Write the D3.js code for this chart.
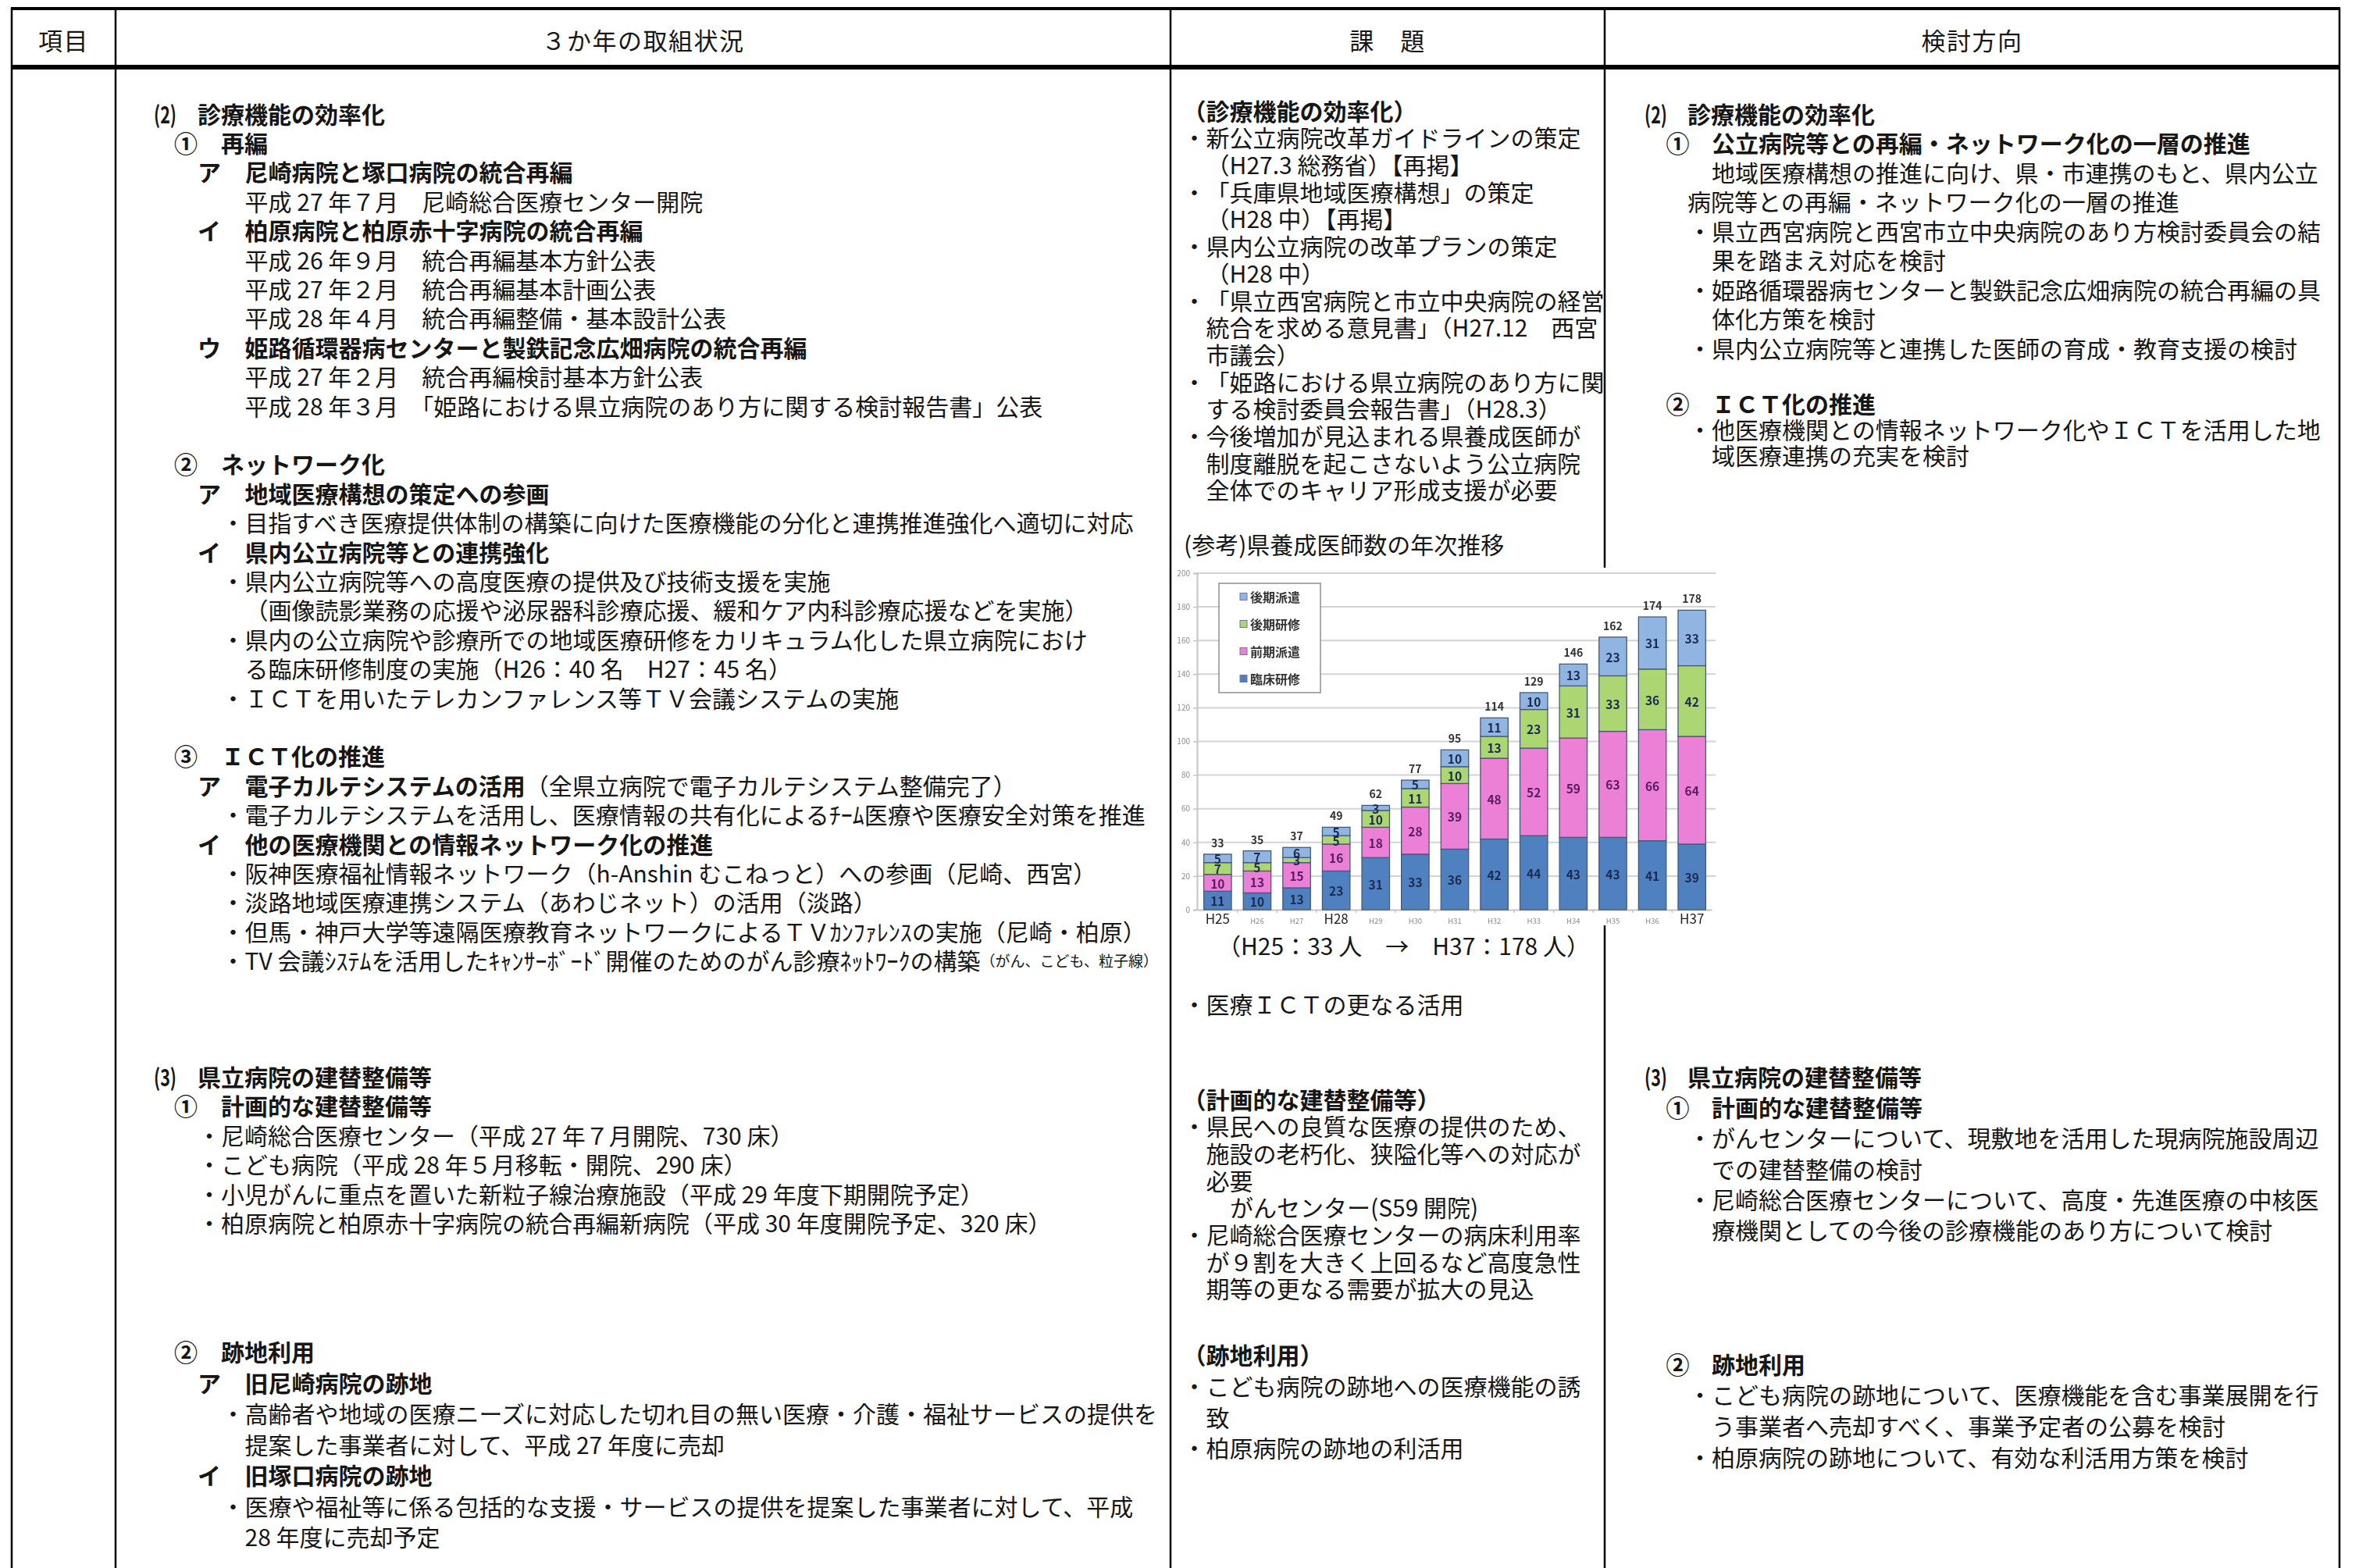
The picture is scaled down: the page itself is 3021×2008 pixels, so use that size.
<!DOCTYPE html>
<html lang="ja">
<head>
<meta charset="utf-8">
<title>県立病院改革 取組状況・課題・検討方向</title>
<script src="https://cdn.jsdelivr.net/npm/d3@7/dist/d3.min.js"></script>
<style>
html,body{margin:0;padding:0;background:#fff;}
svg{display:block;}
text{font-family:"Noto Sans CJK JP","Noto Sans",sans-serif;}
</style>
</head>
<body>
<svg id="page" width="3021" height="2008"></svg>
<script>
// ---- 県養成医師数の年次推移（人） ----
const years = ["H25","H26","H27","H28","H29","H30","H31","H32","H33","H34","H35","H36","H37"];
const emphasizedYears = ["H25","H28","H37"];
const seriesNames = ["臨床研修","前期派遣","後期研修","後期派遣"];
const rinshoKenshu = [11,10,13,23,31,33,36,42,44,43,43,41,39];
const zenkiHaken   = [10,13,15,16,18,28,39,48,52,59,63,66,64];
const kokiKenshu   = [7,5,3,5,10,11,10,13,23,31,33,36,42];
const kokiHaken    = [5,7,6,5,3,5,10,11,10,13,23,31,33];
const yTickValues  = [0,20,40,60,80,100,120,140,160,180,200];

// ---- table text ----
const headers = ["項目","３か年の取組状況","課　題","検討方向"];

const col2Top = [
  ["sec","(2)","診療機能の効率化"],
  ["num","①","再編"],
  ["kana","ア","尼崎病院と塚口病院の統合再編"],
  ["txt","平成 27 年７月　尼崎総合医療センター開院"],
  ["kana","イ","柏原病院と柏原赤十字病院の統合再編"],
  ["txt","平成 26 年９月　統合再編基本方針公表"],
  ["txt","平成 27 年２月　統合再編基本計画公表"],
  ["txt","平成 28 年４月　統合再編整備・基本設計公表"],
  ["kana","ウ","姫路循環器病センターと製鉄記念広畑病院の統合再編"],
  ["txt","平成 27 年２月　統合再編検討基本方針公表"],
  ["txt","平成 28 年３月　「姫路における県立病院のあり方に関する検討報告書」公表"],
  null,
  ["num","②","ネットワーク化"],
  ["kana","ア","地域医療構想の策定への参画"],
  ["dot","目指すべき医療提供体制の構築に向けた医療機能の分化と連携推進強化へ適切に対応"],
  ["kana","イ","県内公立病院等との連携強化"],
  ["dot","県内公立病院等への高度医療の提供及び技術支援を実施"],
  ["txt","（画像読影業務の応援や泌尿器科診療応援、緩和ケア内科診療応援などを実施）"],
  ["dot","県内の公立病院や診療所での地域医療研修をカリキュラム化した県立病院におけ"],
  ["txt","る臨床研修制度の実施（H26：40 名　H27：45 名）"],
  ["dot","ＩＣＴを用いたテレカンファレンス等ＴＶ会議システムの実施"],
  null,
  ["num","③","ＩＣＴ化の推進"],
  ["kana","ア",["電子カルテシステムの活用","（全県立病院で電子カルテシステム整備完了）"]],
  ["dot","電子カルテシステムを活用し、医療情報の共有化によるﾁｰﾑ医療や医療安全対策を推進"],
  ["kana","イ","他の医療機関との情報ネットワーク化の推進"],
  ["dot","阪神医療福祉情報ネットワーク（h-Anshin むこねっと）への参画（尼崎、西宮）"],
  ["dot","淡路地域医療連携システム（あわじネット）の活用（淡路）"],
  ["dot","但馬・神戸大学等遠隔医療教育ネットワークによるＴＶｶﾝﾌｧﾚﾝｽの実施（尼崎・柏原）"],
  ["dot",["TV 会議ｼｽﾃﾑを活用したｷｬﾝｻｰﾎﾞｰﾄﾞ開催のためのがん診療ﾈｯﾄﾜｰｸの構築","（がん、こども、粒子線）"]]
];
const col2Mid = [
  ["sec","(3)","県立病院の建替整備等"],
  ["num","①","計画的な建替整備等"],
  ["dot1","尼崎総合医療センター（平成 27 年７月開院、730 床）"],
  ["dot1","こども病院（平成 28 年５月移転・開院、290 床）"],
  ["dot1","小児がんに重点を置いた新粒子線治療施設（平成 29 年度下期開院予定）"],
  ["dot1","柏原病院と柏原赤十字病院の統合再編新病院（平成 30 年度開院予定、320 床）"]
];
const col2Bottom = [
  ["num","②","跡地利用"],
  ["kana","ア","旧尼崎病院の跡地"],
  ["dot","高齢者や地域の医療ニーズに対応した切れ目の無い医療・介護・福祉サービスの提供を"],
  ["txt","提案した事業者に対して、平成 27 年度に売却"],
  ["kana","イ","旧塚口病院の跡地"],
  ["dot","医療や福祉等に係る包括的な支援・サービスの提供を提案した事業者に対して、平成"],
  ["txt","28 年度に売却予定"]
];

const col3Top = [
  ["head","（診療機能の効率化）"],
  ["dot","新公立病院改革ガイドラインの策定"],
  ["txt","（H27.3 総務省）【再掲】"],
  ["dot","「兵庫県地域医療構想」の策定"],
  ["txt","（H28 中）【再掲】"],
  ["dot","県内公立病院の改革プランの策定"],
  ["txt","（H28 中）"],
  ["dot","「県立西宮病院と市立中央病院の経営"],
  ["txt","統合を求める意見書」（H27.12　西宮"],
  ["txt","市議会）"],
  ["dot","「姫路における県立病院のあり方に関"],
  ["txt","する検討委員会報告書」（H28.3）"],
  ["dot","今後増加が見込まれる県養成医師が"],
  ["txt","制度離脱を起こさないよう公立病院"],
  ["txt","全体でのキャリア形成支援が必要"],
  null,
  ["plain","(参考)県養成医師数の年次推移"]
];
const col3Caption = [["note","（H25：33 人　→　H37：178 人）"]];
const col3Ict = [["dot","医療ＩＣＴの更なる活用"]];
const col3Mid = [
  ["head","（計画的な建替整備等）"],
  ["dot","県民への良質な医療の提供のため、"],
  ["txt","施設の老朽化、狭隘化等への対応が"],
  ["txt","必要"],
  ["ind","がんセンター(S59 開院)"],
  ["dot","尼崎総合医療センターの病床利用率"],
  ["txt","が９割を大きく上回るなど高度急性"],
  ["txt","期等の更なる需要が拡大の見込"]
];
const col3Bottom = [
  ["head","（跡地利用）"],
  ["dot","こども病院の跡地への医療機能の誘"],
  ["txt","致"],
  ["dot","柏原病院の跡地の利活用"]
];

const col4Top = [
  ["sec","(2)","診療機能の効率化"],
  ["num","①","公立病院等との再編・ネットワーク化の一層の推進"],
  ["txt","地域医療構想の推進に向け、県・市連携のもと、県内公立"],
  ["txt0","病院等との再編・ネットワーク化の一層の推進"],
  ["dot","県立西宮病院と西宮市立中央病院のあり方検討委員会の結"],
  ["txt","果を踏まえ対応を検討"],
  ["dot","姫路循環器病センターと製鉄記念広畑病院の統合再編の具"],
  ["txt","体化方策を検討"],
  ["dot","県内公立病院等と連携した医師の育成・教育支援の検討"]
];
const col4Ict = [
  ["num","②","ＩＣＴ化の推進"],
  ["dot","他医療機関との情報ネットワーク化やＩＣＴを活用した地"],
  ["txt","域医療連携の充実を検討"]
];
const col4Mid = [
  ["sec","(3)","県立病院の建替整備等"],
  ["num","①","計画的な建替整備等"],
  ["dot","がんセンターについて、現敷地を活用した現病院施設周辺"],
  ["txt","での建替整備の検討"],
  ["dot","尼崎総合医療センターについて、高度・先進医療の中核医"],
  ["txt","療機関としての今後の診療機能のあり方について検討"]
];
const col4Bottom = [
  ["num","②","跡地利用"],
  ["dot","こども病院の跡地について、医療機能を含む事業展開を行"],
  ["txt","う事業者へ売却すべく、事業予定者の公募を検討"],
  ["dot","柏原病院の跡地について、有効な利活用方策を検討"]
];

// ---------------- drawing ----------------
const svg = d3.select("#page");
const INK = "#161616";
const FS = 30;

svg.append("defs").append("filter").attr("id","soft")
  .append("feGaussianBlur").attr("stdDeviation",0.55);

// table frame
const colX = [15, 148, 1499, 2055, 2996];
const frame = svg.append("g").attr("stroke","#000");
colX.forEach(x => frame.append("line").attr("x1",x).attr("x2",x).attr("y1",10).attr("y2",2008).attr("stroke-width",2.5));
frame.append("line").attr("x1",colX[0]-1).attr("x2",colX[4]+1).attr("y1",11).attr("y2",11).attr("stroke-width",4);
frame.append("line").attr("x1",colX[0]-1).attr("x2",colX[4]+1).attr("y1",86).attr("y2",86).attr("stroke-width",6);

// header labels
headers.forEach((h,i) => {
  svg.append("text").attr("x",(colX[i]+colX[i+1])/2).attr("y",50)
    .attr("text-anchor","middle").attr("dominant-baseline","central")
    .attr("font-size",31).attr("letter-spacing",1.5).attr("fill",INK).text(h);
});

function txt(x, y, s, opt = {}) {
  const t = svg.append("text").attr("x",x).attr("y",y)
    .attr("dominant-baseline","central").attr("font-size",opt.size || FS)
    .attr("font-weight",opt.weight || 400).attr("fill",INK);
  if (opt.len) t.attr("textLength",opt.len).attr("lengthAdjust","spacingAndGlyphs");
  if (Array.isArray(s)) {
    t.append("tspan").attr("font-weight",opt.weight || 400).text(s[0]);
    t.append("tspan").attr("font-weight",opt.tailWeight || 400)
      .attr("font-size",opt.tailSize || FS).text(s[1]);
  } else t.text(s);
  return t;
}

function drawBlock(lines, y0, step, c) {
  lines.forEach((ln, i) => {
    if (!ln) return;
    const y = y0 + i * step;
    const [kind, a, b] = ln;
    switch (kind) {
      case "sec":
        txt(c.secL, y, a, {weight:700, len:29});
        txt(c.secT, y, b, {weight:700});
        break;
      case "num":
        txt(c.numL, y, a, {weight:700});
        txt(c.numT, y, b, {weight:700});
        break;
      case "kana":
        txt(c.kanaL, y, a, {weight:700});
        txt(c.kanaT, y, b, {weight:700});
        break;
      case "dot":
        txt(c.dotT - FS, y, "・");
        txt(c.dotT, y, a, Array.isArray(a) ? {tailSize:19} : {});
        break;
      case "dot1":
        txt(c.dot1T - FS, y, "・");
        txt(c.dot1T, y, a);
        break;
      case "txt":  txt(c.txt, y, a); break;
      case "txt0": txt(c.txt0, y, a); break;
      case "head": txt(c.head, y, a, {weight:700}); break;
      case "plain": txt(c.plain, y, a); break;
      case "note": txt(c.note, y, a); break;
      case "ind": txt(c.ind, y, a); break;
    }
  });
}

const c2 = {secL:197, secT:253, numL:223, numT:283, kanaL:253, kanaT:313.6, dotT:313.6, dot1T:283, txt:313.6};
const c3 = {head:1514.6, dotT:1544.6, txt:1544.6, plain:1516, note:1559, ind:1575};
const c4 = {secL:2106, secT:2161, numL:2133.5, numT:2192, dotT:2192, txt:2192, txt0:2161};

drawBlock(col2Top, 144.5, 37.4, c2);
drawBlock(col2Mid, 1378, 37.4, c2);
drawBlock(col2Bottom, 1730, 39.5, c2);

drawBlock(col3Top, 140.6, 34.7, c3);
drawBlock(col3Caption, 1210, 0, c3);
drawBlock(col3Ict, 1285, 0, c3);
drawBlock(col3Mid, 1406.5, 34.7, c3);
drawBlock(col3Bottom, 1734, 39.8, c3);

drawBlock(col4Top, 144.5, 37.5, c4);
drawBlock(col4Ict, 516, 33, c4);
drawBlock(col4Mid, 1377.6, 39.3, c4);
drawBlock(col4Bottom, 1745.6, 39.7, c4);

// ---------------- stacked bar chart ----------------
const seriesColors = ["#4f80bf","#ec80d6","#abd672","#91b5e2"];
const labelColors  = ["#1d2b4f","#5a1a63","#1d2b4f","#1d2b4f"];

const chart = svg.append("g").attr("filter","url(#soft)");
chart.append("rect").attr("x",1505).attr("y",727).attr("width",692).attr("height",458).attr("fill","#fff");

const x = d3.scaleBand().domain(years).range([1534, 2192]).paddingInner(0.3).paddingOuter(0.15);
const y = d3.scaleLinear().domain([0, 200]).range([1165, 734]);

chart.append("g").selectAll("line").data(yTickValues.filter(v => v > 0)).join("line")
  .attr("x1",1533).attr("x2",2197).attr("y1",d => y(d)).attr("y2",d => y(d))
  .attr("stroke","#d3d3d3").attr("stroke-width",2);

const yAxis = chart.append("g").attr("transform","translate(1533,0)")
  .call(d3.axisLeft(y).tickValues(yTickValues).tickSize(5).tickPadding(4));
yAxis.select(".domain").attr("stroke","#c4c4c4").attr("stroke-width",2);
yAxis.selectAll(".tick line").attr("stroke","#c4c4c4").attr("stroke-width",1.5);
yAxis.selectAll(".tick text").attr("fill","#8c8c8c").attr("font-size",10)
  .attr("font-family","Liberation Sans, Arial, sans-serif");

const xAxis = chart.append("g").attr("transform",`translate(0,${y(0)})`)
  .call(d3.axisBottom(x).tickSize(0).tickPadding(9));
xAxis.select(".domain").attr("stroke","#c4c4c4").attr("stroke-width",2);
xAxis.selectAll(".tick text")
  .attr("font-family","Liberation Sans, Arial, sans-serif")
  .attr("fill",d => emphasizedYears.includes(d) ? "#222" : "#8c8c8c")
  .attr("font-size",d => emphasizedYears.includes(d) ? 17 : 9.5)
  .attr("dy",d => emphasizedYears.includes(d) ? "0.55em" : "0.9em");
chart.append("g").selectAll("line").data(years.slice(1)).join("line")
  .attr("x1",d => x(d) - x.step()*x.paddingInner()/2).attr("x2",d => x(d) - x.step()*x.paddingInner()/2)
  .attr("y1",y(0)).attr("y2",y(0)+4).attr("stroke","#c4c4c4").attr("stroke-width",1.5);

const rows = years.map((yr, i) => ({
  year: yr,
  "臨床研修": rinshoKenshu[i],
  "前期派遣": zenkiHaken[i],
  "後期研修": kokiKenshu[i],
  "後期派遣": kokiHaken[i]
}));
const stacked = d3.stack().keys(seriesNames)(rows);

const layers = chart.append("g").selectAll("g").data(stacked).join("g")
  .attr("fill",(d,i) => seriesColors[i]);
layers.selectAll("rect").data(d => d).join("rect")
  .attr("x",d => x(d.data.year)).attr("width",x.bandwidth())
  .attr("y",d => y(d[1])).attr("height",d => y(d[0]) - y(d[1]))
  .attr("stroke","#465a78").attr("stroke-width",1.3);

stacked.forEach((layer, li) => {
  chart.append("g").selectAll("text").data(layer).join("text")
    .attr("x",d => x(d.data.year) + x.bandwidth()/2)
    .attr("y",d => (y(d[0]) + y(d[1]))/2)
    .attr("text-anchor","middle").attr("dominant-baseline","central")
    .attr("font-family","Liberation Sans, Arial, sans-serif")
    .attr("font-weight",700).attr("font-size",15.5)
    .attr("fill",labelColors[li])
    .text(d => d[1] - d[0]);
});

chart.append("g").selectAll("text").data(rows).join("text")
  .attr("x",d => x(d.year) + x.bandwidth()/2)
  .attr("y",d => y(d3.sum(seriesNames, k => d[k])) - 15)
  .attr("text-anchor","middle").attr("dominant-baseline","central")
  .attr("font-family","Liberation Sans, Arial, sans-serif")
  .attr("font-weight",700).attr("font-size",14).attr("fill","#333")
  .text(d => d3.sum(seriesNames, k => d[k]));

// legend (top entry = top of stack)
const legend = chart.append("g");
legend.append("rect").attr("x",1561).attr("y",747).attr("width",130).attr("height",140)
  .attr("fill","#fff").attr("stroke","#8f8f8f").attr("stroke-width",1.5);
const legendOrder = seriesNames.slice().reverse();
legendOrder.forEach((name, i) => {
  const ly = 764 + i * 35;
  const ci = seriesNames.indexOf(name);
  legend.append("rect").attr("x",1588).attr("y",ly - 4.5).attr("width",9).attr("height",9)
    .attr("fill",seriesColors[ci]).attr("stroke","#6b7c95").attr("stroke-width",1);
  legend.append("text").attr("x",1601).attr("y",ly).attr("dominant-baseline","central")
    .attr("font-size",16).attr("font-weight",700).attr("fill","#333").text(name);
});
</script>
</body>
</html>
